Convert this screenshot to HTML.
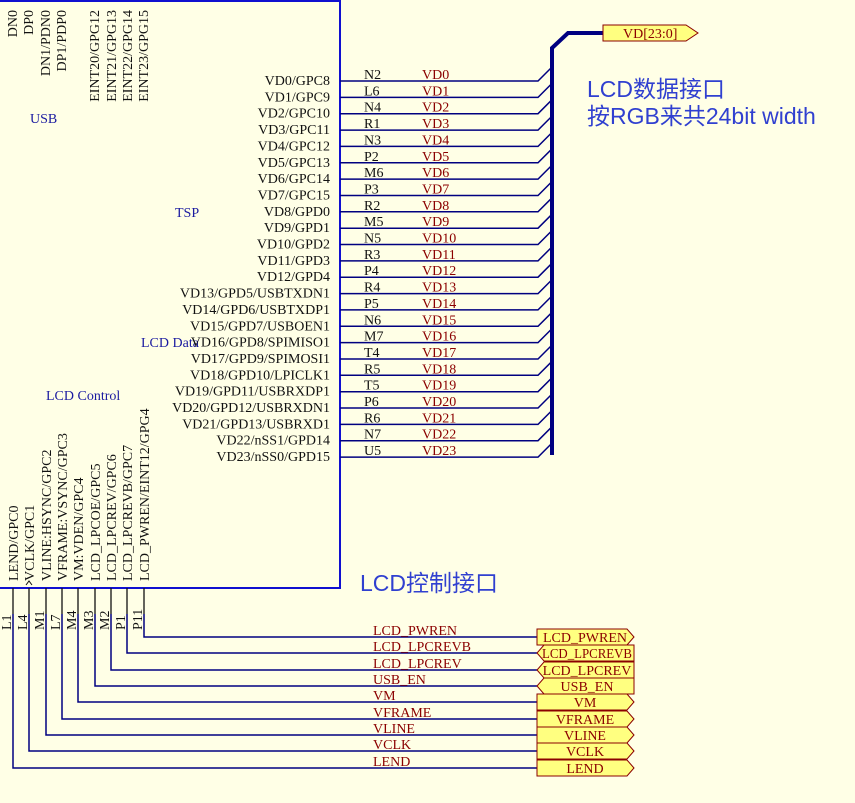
<!DOCTYPE html>
<html><head><meta charset="utf-8"><style>
html,body{margin:0;padding:0;background:#ffffe6;}
svg{display:block;}
.s{font-family:"Liberation Serif",serif;font-size:14px;fill:#111;}
.r{font-family:"Liberation Serif",serif;font-size:14px;fill:#8b0000;}
.b{font-family:"Liberation Serif",serif;font-size:14px;fill:#1a1aa0;}
.c{font-family:"Liberation Sans","Noto Sans CJK SC",sans-serif;font-size:23px;fill:#3040d0;}
.w{stroke:#000080;stroke-width:1.5;fill:none;}
.p{fill:#ffff80;stroke:#8b0000;stroke-width:1;}
</style></head><body>
<svg width="855" height="803" viewBox="0 0 855 803" xmlns="http://www.w3.org/2000/svg">
<rect x="0" y="0" width="855" height="803" fill="#ffffe6"/>
<rect x="-1" y="1" width="341" height="587" fill="none" stroke="#1010d0" stroke-width="2"/>
<g class="s" text-anchor="end">
<text transform="translate(17,10) rotate(-90)">DN0</text>
<text transform="translate(33,10) rotate(-90)">DP0</text>
<text transform="translate(50,10) rotate(-90)">DN1/PDN0</text>
<text transform="translate(66,10) rotate(-90)">DP1/PDP0</text>
<text transform="translate(99,10) rotate(-90)">EINT20/GPG12</text>
<text transform="translate(116,10) rotate(-90)">EINT21/GPG13</text>
<text transform="translate(132,10) rotate(-90)">EINT22/GPG14</text>
<text transform="translate(148,10) rotate(-90)">EINT23/GPG15</text>
</g>
<g class="b">
<text x="30" y="123">USB</text>
<text x="175" y="217">TSP</text>
<text x="141" y="347">LCD Data</text>
<text x="46" y="400">LCD Control</text>
</g>
<g class="w">
<path d="M340 81H538L552 67M340 97.4H538L552 83.4M340 113.7H538L552 99.7M340 130.1H538L552 116.1M340 146.4H538L552 132.4M340 162.8H538L552 148.8M340 179.1H538L552 165.1M340 195.5H538L552 181.5M340 211.8H538L552 197.8M340 228.2H538L552 214.2M340 244.5H538L552 230.5M340 260.9H538L552 246.9M340 277.2H538L552 263.2M340 293.6H538L552 279.6M340 309.9H538L552 295.9M340 326.3H538L552 312.3M340 342.6H538L552 328.6M340 359H538L552 345M340 375.3H538L552 361.3M340 391.7H538L552 377.7M340 408H538L552 394M340 424.4H538L552 410.4M340 440.7H538L552 426.7M340 457.1H538L552 443.1"/>
</g>
<path d="M552 455V48L568 33H603" fill="none" stroke="#000080" stroke-width="4"/>
<path class="p" d="M603 25H686L698 33L686 41H603Z"/>
<text class="r" x="623" y="38">VD[23:0]</text>
<g class="s" text-anchor="end">
<text x="330" y="85">VD0/GPC8</text>
<text x="330" y="101.4">VD1/GPC9</text>
<text x="330" y="117.7">VD2/GPC10</text>
<text x="330" y="134.1">VD3/GPC11</text>
<text x="330" y="150.4">VD4/GPC12</text>
<text x="330" y="166.8">VD5/GPC13</text>
<text x="330" y="183.1">VD6/GPC14</text>
<text x="330" y="199.5">VD7/GPC15</text>
<text x="330" y="215.8">VD8/GPD0</text>
<text x="330" y="232.2">VD9/GPD1</text>
<text x="330" y="248.5">VD10/GPD2</text>
<text x="330" y="264.9">VD11/GPD3</text>
<text x="330" y="281.2">VD12/GPD4</text>
<text x="330" y="297.6">VD13/GPD5/USBTXDN1</text>
<text x="330" y="313.9">VD14/GPD6/USBTXDP1</text>
<text x="330" y="330.3">VD15/GPD7/USBOEN1</text>
<text x="330" y="346.6">VD16/GPD8/SPIMISO1</text>
<text x="330" y="363">VD17/GPD9/SPIMOSI1</text>
<text x="330" y="379.3">VD18/GPD10/LPICLK1</text>
<text x="330" y="395.7">VD19/GPD11/USBRXDP1</text>
<text x="330" y="412">VD20/GPD12/USBRXDN1</text>
<text x="330" y="428.4">VD21/GPD13/USBRXD1</text>
<text x="330" y="444.7">VD22/nSS1/GPD14</text>
<text x="330" y="461.1">VD23/nSS0/GPD15</text>
</g>
<g class="s">
<text x="364" y="79">N2</text><text x="364" y="95.4">L6</text><text x="364" y="111.7">N4</text><text x="364" y="128.1">R1</text>
<text x="364" y="144.4">N3</text><text x="364" y="160.8">P2</text><text x="364" y="177.1">M6</text><text x="364" y="193.5">P3</text>
<text x="364" y="209.8">R2</text><text x="364" y="226.2">M5</text><text x="364" y="242.5">N5</text><text x="364" y="258.9">R3</text>
<text x="364" y="275.2">P4</text><text x="364" y="291.6">R4</text><text x="364" y="307.9">P5</text><text x="364" y="324.3">N6</text>
<text x="364" y="340.6">M7</text><text x="364" y="357">T4</text><text x="364" y="373.3">R5</text><text x="364" y="389.7">T5</text>
<text x="364" y="406">P6</text><text x="364" y="422.4">R6</text><text x="364" y="438.7">N7</text><text x="364" y="455.1">U5</text>
</g>
<g class="r">
<text x="422" y="79">VD0</text><text x="422" y="95.4">VD1</text><text x="422" y="111.7">VD2</text><text x="422" y="128.1">VD3</text>
<text x="422" y="144.4">VD4</text><text x="422" y="160.8">VD5</text><text x="422" y="177.1">VD6</text><text x="422" y="193.5">VD7</text>
<text x="422" y="209.8">VD8</text><text x="422" y="226.2">VD9</text><text x="422" y="242.5">VD10</text><text x="422" y="258.9">VD11</text>
<text x="422" y="275.2">VD12</text><text x="422" y="291.6">VD13</text><text x="422" y="307.9">VD14</text><text x="422" y="324.3">VD15</text>
<text x="422" y="340.6">VD16</text><text x="422" y="357">VD17</text><text x="422" y="373.3">VD18</text><text x="422" y="389.7">VD19</text>
<text x="422" y="406">VD20</text><text x="422" y="422.4">VD21</text><text x="422" y="438.7">VD22</text><text x="422" y="455.1">VD23</text>
</g>
<text class="c" x="587" y="97">LCD数据接口</text>
<text class="c" x="587" y="124">按RGB来共24bit width</text>
<text class="c" x="360" y="591">LCD控制接口</text>
<g class="s">
<text transform="translate(18,581) rotate(-90)">LEND/GPC0</text>
<text transform="translate(34,581) rotate(-90)">VCLK/GPC1</text>
<text transform="translate(51,581) rotate(-90)">VLINE:HSYNC/GPC2</text>
<text transform="translate(67,581) rotate(-90)">VFRAME:VSYNC/GPC3</text>
<text transform="translate(83,581) rotate(-90)">VM:VDEN/GPC4</text>
<text transform="translate(100,581) rotate(-90)">LCD_LPCOE/GPC5</text>
<text transform="translate(116,581) rotate(-90)">LCD_LPCREV/GPC6</text>
<text transform="translate(132,581) rotate(-90)">LCD_LPCREVB/GPC7</text>
<text transform="translate(149,581) rotate(-90)">LCD_PWREN/EINT12/GPG4</text>
<text transform="translate(11,630) rotate(-90)">L1</text>
<text transform="translate(27,630) rotate(-90)">L4</text>
<text transform="translate(44,630) rotate(-90)">M1</text>
<text transform="translate(60,630) rotate(-90)">L7</text>
<text transform="translate(76,630) rotate(-90)">M4</text>
<text transform="translate(93,630) rotate(-90)">M3</text>
<text transform="translate(109,630) rotate(-90)">M2</text>
<text transform="translate(125,630) rotate(-90)">P1</text>
<text transform="translate(142,630) rotate(-90)">P11</text>
</g>
<path d="M26 585L29 581L32 585" fill="none" stroke="#111" stroke-width="1"/>
<g fill="none" stroke="#111" stroke-width="1.3">
<path d="M13 588V614M29 588V614M46 588V614M62 588V614M78 588V614M95 588V614M111 588V614M127 588V614M144 588V614"/>
</g>
<g class="w">
<path d="M144 614V637H537M127 614V653H537M111 614V670H537M95 614V686H537M78 614V702H537M62 614V719H537M46 614V735H537M29 614V751H537M13 614V768H537"/>
</g>
<g class="r">
<text x="373" y="635">LCD_PWREN</text>
<text x="373" y="651">LCD_LPCREVB</text>
<text x="373" y="668">LCD_LPCREV</text>
<text x="373" y="684">USB_EN</text>
<text x="373" y="700">VM</text>
<text x="373" y="717">VFRAME</text>
<text x="373" y="733">VLINE</text>
<text x="373" y="749">VCLK</text>
<text x="373" y="766">LEND</text>
</g>
<g>
<path class="p" d="M537 629H627L634 637L627 645H537Z"/>
<path class="p" d="M544 645H634V661H544L537 653Z"/>
<path class="p" d="M544 662H634V678H544L537 670Z"/>
<path class="p" d="M544 678H634V694H544L537 686Z"/>
<path class="p" d="M537 694H627L634 702L627 710H537Z"/>
<path class="p" d="M537 711H627L634 719L627 727H537Z"/>
<path class="p" d="M537 727H627L634 735L627 743H537Z"/>
<path class="p" d="M537 743H627L634 751L627 759H537Z"/>
<path class="p" d="M537 760H627L634 768L627 776H537Z"/>
</g>
<g class="r" text-anchor="middle">
<text x="585" y="642">LCD_PWREN</text>
<text x="587" y="658" textLength="90" lengthAdjust="spacingAndGlyphs">LCD_LPCREVB</text>
<text x="587" y="675">LCD_LPCREV</text>
<text x="587" y="691">USB_EN</text>
<text x="585" y="707">VM</text>
<text x="585" y="724">VFRAME</text>
<text x="585" y="740">VLINE</text>
<text x="585" y="756">VCLK</text>
<text x="585" y="773">LEND</text>
</g>
</svg>
</body></html>
